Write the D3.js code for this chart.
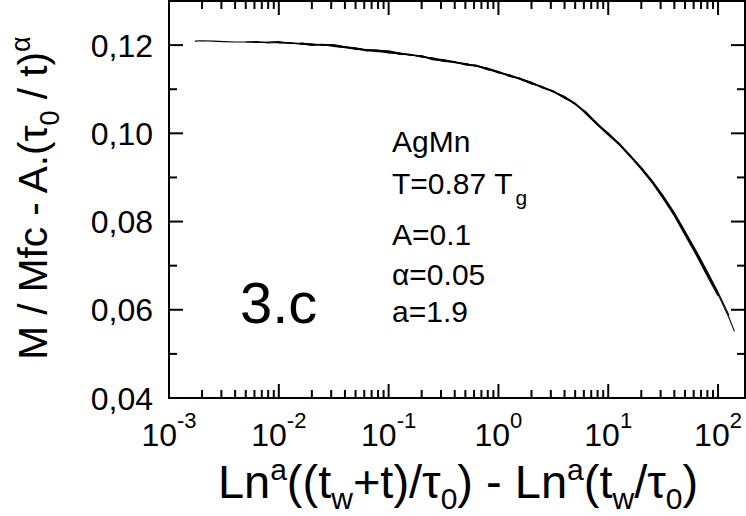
<!DOCTYPE html>
<html>
<head>
<meta charset="utf-8">
<script src="https://cdn.jsdelivr.net/npm/d3@7"></script>
<style>
  body { margin: 0; background: #fff; }
  text { font-family: "Liberation Sans", Arial, sans-serif; fill: #000; }
</style>
</head>
<body>
<div id="chart"></div>
<script>
// x grid: Ln^a((tw+t)/tau0) - Ln^a(tw/tau0)
var lnDiff = [0.00172, 0.00200, 0.00251, 0.00316, 0.00398, 0.00501, 0.00631, 0.00794, 0.0100, 0.0126,
  0.0158, 0.0200, 0.0251, 0.0316, 0.0398, 0.0501, 0.0631, 0.0794, 0.100, 0.126,
  0.158, 0.200, 0.251, 0.316, 0.398, 0.501, 0.631, 0.794, 1.00, 1.26,
  1.58, 2.00, 2.51, 3.16, 3.98, 5.01, 6.31, 7.94, 10.0, 12.6,
  15.8, 20.0, 25.1, 31.6, 39.8, 50.1, 63.1, 79.4, 100, 126, 141];

var _ = null;
// M/Mfc - A.(tau0/t)^alpha, one array per waiting time
var curveA = [.1209, .1210, .1209, .1208, .1207, .1207, .1208, .1205, .1206, .1205,
  .1202, .1201, .1202, .1198, .1194, .1193, .1189, .1185, .1185, .1181,
  .1179, .1173, .1171, .1165, .1160, .1158, .1153, .1144, .1140, .1131,
  .1125, .1113, .1105, .1096, .1080, .1067, .1047, .1020, .1001, .0976,
  .0948, .0922, .0890, .0854, .0818, .0773, .0729, .0681, .0635, .0582, .0551];
var curveB = [_, _, _, _, _, .1207, .1206, .1207, .1208, .1204,
  .1204, .1203, .1199, .1199, .1197, .1192, .1190, .1189, .1183, .1182,
  .1178, .1176, .1168, .1166, .1163, .1156, .1154, .1147, .1138, .1133,
  .1123, .1115, .1103, .1095, .1083, .1066, .1048, .1022, .0998, .0978,
  .0950, .0923, .0893, .0859, .0821, .0778, .0734, .0688, .0640, .0587, _];
var curveC = [_, _, _, _, _, _, _, _, .1205, .1205,
  .1203, .1199, .1201, .1197, .1195, .1190, .1190, .1186, .1182, .1181,
  .1177, .1175, .1167, .1164, .1162, .1155, .1152, .1146, .1137, .1132,
  .1122, .1112, .1106, .1094, .1080, .1068, .1043, .1019, .0996, .0974,
  .0948, .0918, .0888, .0852, .0814, .0769, .0725, .0677, .0631, _, _];
var curveD = [_, _, _, _, _, _, _, _, _, _,
  .1205, .1201, .1201, .1201, .1196, .1194, .1189, .1188, .1187, .1182,
  .1177, .1176, .1169, .1167, .1161, .1158, .1152, .1148, .1140, .1130,
  .1124, .1116, .1105, .1094, .1084, .1068, .1045, .1023, .0999, .0975,
  .0951, .0921, .0891, .0857, .0819, .0775, .0731, .0684, .0638, _, _];
var curveE = [_, _, _, _, _, _, _, _, _, _,
  _, _, _, .1197, .1196, .1191, .1187, .1187, .1185, .1179,
  .1178, .1173, .1170, .1163, .1161, .1156, .1154, .1145, .1139, .1129,
  .1124, .1114, .1104, .1096, .1082, .1065, .1046, .1020, .1000, .0974,
  .0949, .0920, .0889, .0856, .0815, .0773, .0727, .0682, _, _, _];

var decades = [-3, -2, -1, 0, 1, 2];
var minorSteps = [2, 3, 4, 5, 6, 7, 8, 9];
var yTicks = [0.04, 0.06, 0.08, 0.10, 0.12];
var yTickLabels = ["0,04", "0,06", "0,08", "0,10", "0,12"];
var yMinor = [0.05, 0.07, 0.09, 0.11];

var W = 746, H = 516;
var margin = {top: 1, right: 1, bottom: 118, left: 169};
var plot_w = W - margin.left - margin.right;
var plot_h = H - margin.top - margin.bottom;

var svg = d3.select("#chart").append("svg")
  .attr("width", W).attr("height", H);
var g = svg.append("g")
  .attr("transform", "translate(" + margin.left + "," + margin.top + ")");

var x = d3.scaleLog().domain([0.001, 176]).range([0, plot_w]);
var y = d3.scaleLinear().domain([0.04, 0.13]).range([plot_h, 0]);

// curves
var line = d3.line()
  .defined(function(d) { return d[1] != null; })
  .x(function(d) { return x(d[0]); })
  .y(function(d) { return y(d[1]); });

[curveA, curveB, curveC, curveD, curveE].forEach(function(c) {
  g.append("path")
    .datum(lnDiff.map(function(v, i) { return [v, c[i]]; }))
    .attr("fill", "none")
    .attr("stroke", "#000")
    .attr("stroke-width", 1.1)
    .attr("d", line);
});

// frame
g.append("rect")
  .attr("width", plot_w).attr("height", plot_h)
  .attr("fill", "none").attr("stroke", "#000").attr("stroke-width", 2);

var MAJ = 14, MIN = 8;
var tickG = g.append("g");

function tick(x1, y1, x2, y2) {
  tickG.append("line")
    .attr("x1", x1).attr("y1", y1).attr("x2", x2).attr("y2", y2)
    .attr("stroke", "#000").attr("stroke-width", 2);
}

// x ticks, bottom and top, pointing in
decades.forEach(function(p) {
  var base = Math.pow(10, p);
  var px = x(base);
  if (px > 0.5) { tick(px, plot_h, px, plot_h - MAJ); tick(px, 0, px, MAJ); }
  minorSteps.forEach(function(m) {
    var mx = x(m * base);
    if (mx >= plot_w) return;
    tick(mx, plot_h, mx, plot_h - MIN);
    tick(mx, 0, mx, MIN);
  });
});

// y ticks, left and right
yTicks.forEach(function(t) {
  var py = y(t);
  if (py >= plot_h - 0.5) return;
  tick(0, py, MAJ, py); tick(plot_w, py, plot_w - MAJ, py);
});
yMinor.forEach(function(t) {
  var py = y(t);
  tick(0, py, MIN, py); tick(plot_w, py, plot_w - MIN, py);
});

// y tick labels
g.selectAll(".ylab").data(yTicks).enter().append("text")
  .attr("x", -16)
  .attr("y", function(d) { return y(d); })
  .attr("dy", "0.36em")
  .attr("text-anchor", "end")
  .style("font-size", "32px")
  .text(function(d, i) { return yTickLabels[i]; });

// x tick labels 10^n
decades.forEach(function(p) {
  var t = g.append("text")
    .attr("x", x(Math.pow(10, p)))
    .attr("y", plot_h + 48)
    .attr("text-anchor", "middle")
    .style("font-size", "32px");
  t.append("tspan").text("10");
  t.append("tspan").attr("dy", -18).style("font-size", "22px").text(String(p));
});

// axis titles
function addRuns(sel, runs, up, down, small) {
  var prev = 0;
  runs.forEach(function(r) {
    var shift = r[1] === "sup" ? -up : r[1] === "sub" ? down : 0;
    sel.append("tspan")
      .attr("dy", shift - prev)
      .style("font-size", r[1] ? small : null)
      .text(r[0]);
    prev = shift;
  });
}

var xt = svg.append("text")
  .attr("x", 458)
  .attr("y", 498)
  .attr("text-anchor", "middle")
  .style("font-size", "47px");
addRuns(xt, [["Ln"], ["a", "sup"], ["((t"], ["w", "sub"], ["+t)/\u03c4"], ["0", "sub"],
  [") - Ln"], ["a", "sup"], ["(t"], ["w", "sub"], ["/\u03c4"], ["0", "sub"], [")"]], 18, 11, "30px");

var yt = svg.append("text")
  .attr("transform", "translate(47,198) rotate(-90)")
  .attr("text-anchor", "middle")
  .style("font-size", "40.5px");
addRuns(yt, [["M / Mfc - A.(\u03c4"], ["0", "sub"], [" / t)"], ["\u03b1", "sup"]], 17, 12, "27px");

// annotations
var noteX = 392 - margin.left;
var noteText = ["AgMn", "A=0.1", "\u03b1=0.05", "a=1.9"];
var noteY = [152, 245, 285, 322];
noteText.forEach(function(s, i) {
  g.append("text")
    .attr("x", noteX)
    .attr("y", noteY[i] - margin.top)
    .style("font-size", "30px")
    .text(s);
});
var tLine = g.append("text")
  .attr("x", noteX)
  .attr("y", 194 - margin.top)
  .style("font-size", "30px");
tLine.append("tspan").text("T=0.87");
tLine.append("tspan").attr("dx", 8).text("T");
tLine.append("tspan").attr("dx", 3).attr("dy", 11).style("font-size", "21px").text("g");

g.append("text")
  .attr("x", 240 - margin.left)
  .attr("y", 323 - margin.top)
  .style("font-size", "58px")
  .text("3.c");
</script>
</body>
</html>
